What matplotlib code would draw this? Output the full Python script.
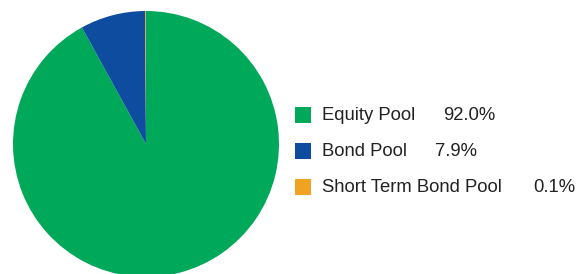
import matplotlib
matplotlib.use("Agg")
import matplotlib.pyplot as plt
from matplotlib.patches import Rectangle

categories = ["Equity Pool", "Bond Pool", "Short Term Bond Pool"]
values = [92.0, 7.9, 0.1]
value_labels = ["92.0%", "7.9%", "0.1%"]
colors = ["#00A859", "#0D4C9F", "#F0A323"]

W, H = 585, 274
fig = plt.figure(figsize=(W / 100, H / 100), dpi=100)
ax = fig.add_axes([0, 0, 1, 1])
ax.pie(values, colors=colors, startangle=90, counterclock=False,
       center=(146, H - 144), radius=133,
       wedgeprops=dict(linewidth=0, antialiased=True))
ax.set_xlim(0, W)
ax.set_ylim(0, H)
ax.set_aspect("equal")
ax.axis("off")

plt.rcParams['font.family'] = ['Liberation Sans', 'DejaVu Sans']
ys = [115, 151, 187]
val_x = [443, 435, 533]
for cat, vl, c, y, vx in zip(categories, value_labels, colors, ys, val_x):
    ax.add_patch(Rectangle((295, H - y - 8), 16, 16, color=c, lw=0))
    ax.text(322, H - y, cat, fontsize=13.3, va="center", ha="left",
            color="#222222", family=['Liberation Sans', 'DejaVu Sans'])
    ax.text(vx, H - y, vl, fontsize=13.3, va="center", ha="left",
            color="#222222", family=['Liberation Sans', 'DejaVu Sans'])

fig.savefig("out.png", dpi=100)
